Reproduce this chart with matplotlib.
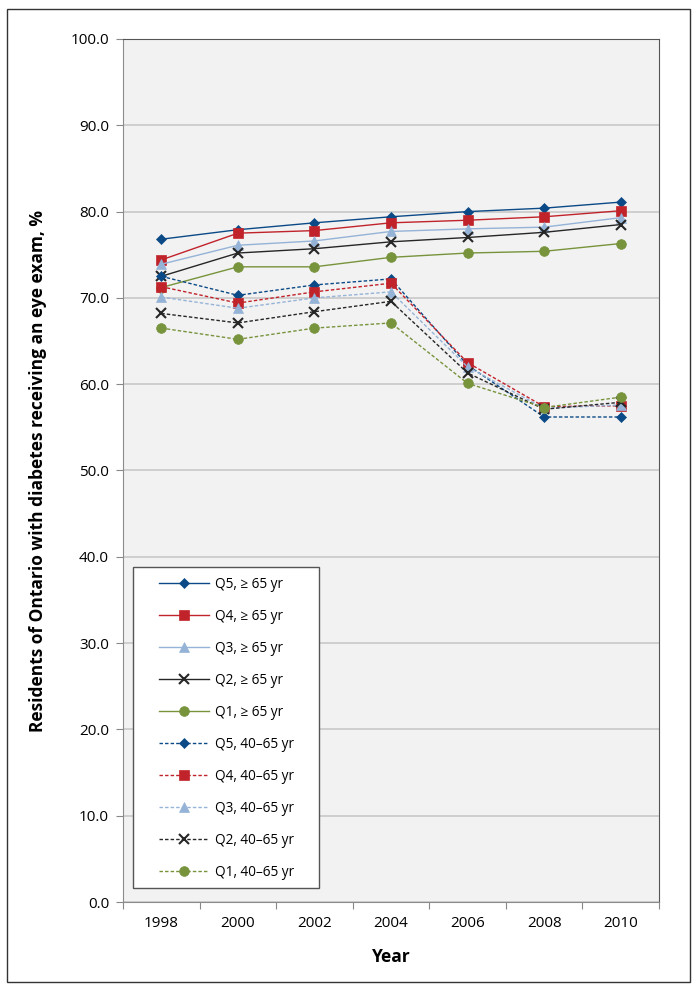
import matplotlib.pyplot as plt
from matplotlib.patches import Rectangle

plt.rcParams['font.family'] = ['Open Sans', 'DejaVu Sans']

years = ['1998', '2000', '2002', '2004', '2006', '2008', '2010']

# age >= 65, by income quintile
q5_old = [76.8, 77.9, 78.7, 79.4, 80.0, 80.4, 81.1]
q4_old = [74.4, 77.5, 77.8, 78.7, 79.0, 79.4, 80.1]
q3_old = [73.9, 76.1, 76.6, 77.7, 78.0, 78.2, 79.3]
q2_old = [72.5, 75.2, 75.7, 76.5, 77.0, 77.6, 78.5]
q1_old = [71.2, 73.6, 73.6, 74.7, 75.2, 75.4, 76.3]

# age 40-65
q5_mid = [72.5, 70.3, 71.5, 72.2, 62.2, 56.2, 56.2]
q4_mid = [71.3, 69.4, 70.7, 71.7, 62.5, 57.4, 57.5]
q3_mid = [70.1, 68.8, 70.0, 70.7, 62.0, 57.2, 57.6]
q2_mid = [68.2, 67.1, 68.4, 69.6, 61.3, 57.1, 57.9]
q1_mid = [66.5, 65.2, 66.5, 67.1, 60.1, 57.3, 58.5]

colors = ['#0b4a86', '#c1232b', '#95b3d7', '#262626', '#77933c']
markers = ['D', 's', '^', 'x', 'o']
msizes = [5.5, 7, 7, 6.5, 7]
names = ['Q5', 'Q4', 'Q3', 'Q2', 'Q1']

fig = plt.figure(figsize=(6.98, 9.9), dpi=100)
ax = fig.add_axes([123/698, 1 - 902/990, 536/698, 863/990])
ax.set_facecolor('#f2f2f2')

x = range(len(years))
for data, c, m, ms, n in zip([q5_old, q4_old, q3_old, q2_old, q1_old], colors, markers, msizes, names):
    ax.plot(x, data, color=c, lw=1.0, marker=m, ms=ms, mew=1.5 if m == 'x' else 0.5,
            label=n + ', \u2265 65 yr', zorder=3)
for data, c, m, ms, n in zip([q5_mid, q4_mid, q3_mid, q2_mid, q1_mid], colors, markers, msizes, names):
    ax.plot(x, data, color=c, lw=1.0, ls=(0, (2.5, 1.5)), marker=m, ms=ms,
            mew=1.5 if m == 'x' else 0.5, label=n + ', 40\u201365 yr', zorder=3)

ax.set_ylim(0, 100)
ax.set_xlim(-0.5, 6.5)
ax.set_yticks(range(0, 101, 10))
ax.set_yticklabels(['%.1f' % v for v in range(0, 101, 10)], fontsize=11)
ax.set_xticks([i + 0.5 for i in range(-1, 7)])
ax.set_xticklabels([])
ax.set_xticks(list(x), minor=True)
ax.set_xticklabels(years, minor=True, fontsize=11)
ax.tick_params(axis='x', which='minor', length=0, pad=10)
ax.tick_params(axis='x', which='major', length=5, color='#888888')
ax.tick_params(axis='y', length=5, color='#888888', pad=5)
ax.yaxis.grid(True, color='#c8c8c8', lw=1.2)
ax.set_axisbelow(True)
for s in ['left', 'bottom']:
    ax.spines[s].set_color('#8c8c8c')
for s in ['top', 'right']:
    ax.spines[s].set_color('#555555')

ax.set_ylabel('Residents of Ontario with diabetes receiving an eye exam, %',
              fontsize=12.5, fontweight='bold', labelpad=17)
ax.set_xlabel('Year', fontsize=12.5, fontweight='bold', labelpad=12)

# legend box
ax.add_patch(Rectangle(((133 - 123)/536, (902 - 888)/863), (319 - 133)/536, (888 - 567)/863,
                       transform=ax.transAxes, facecolor='white', edgecolor='#555555',
                       lw=1.0, zorder=4))
leg = ax.legend(loc='upper left', bbox_to_anchor=((159 - 123)/536, (902 - 577)/863),
                frameon=False, fontsize=9.8, handlelength=3.7, handletextpad=0.45,
                labelspacing=1.25, borderpad=0, borderaxespad=0)
leg.set_zorder(5)

# outer frame
fig.patches.append(Rectangle((7/698, 1 - 982/990), 683/698, 973/990,
                             transform=fig.transFigure, fill=False,
                             edgecolor='#333333', lw=1.0))

fig.savefig('out.png', dpi=100)
